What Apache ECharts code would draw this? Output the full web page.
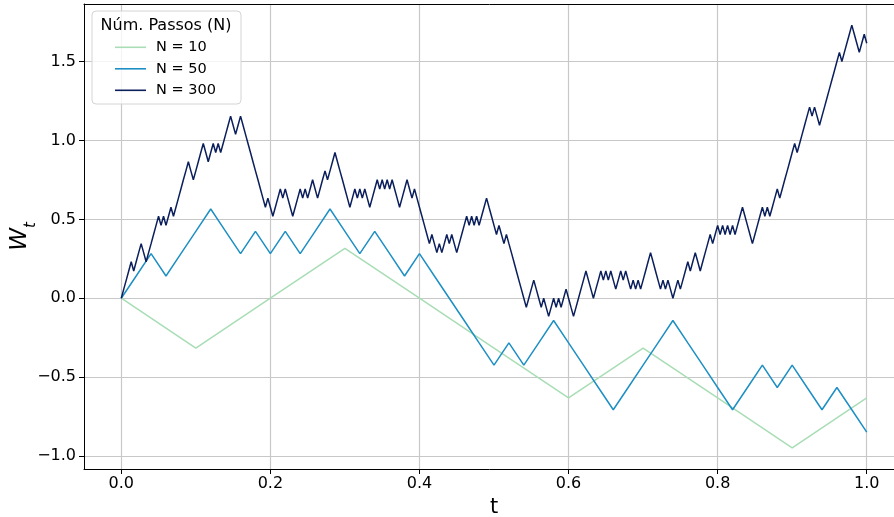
<!DOCTYPE html>
<html>
<head>
<meta charset="utf-8">
<script src="https://cdn.jsdelivr.net/npm/echarts@6/dist/echarts.min.js"></script>
<style>
  html, body { margin: 0; padding: 0; background: #ffffff; }
  #chart { width: 894px; height: 517px; }
</style>
</head>
<body>
<div id="chart"></div>
<script>
// Random walk W_t on [0, 1] with N steps of size sqrt(1/N)
const seriesNames = ['N = 10', 'N = 50', 'N = 300'];
const legendTitle = 'Núm. Passos (N)';

const walk10 = [0, -0.316, 0, 0.316, 0, -0.316, -0.632, -0.316, -0.632, -0.949, -0.632];

const walk50 = [
  0, 0.141, 0.283, 0.141, 0.283, 0.424, 0.566, 0.424, 0.283, 0.424,
  0.283, 0.424, 0.283, 0.424, 0.566, 0.424, 0.283, 0.424, 0.283, 0.141,
  0.283, 0.141, 0, -0.141, -0.283, -0.424, -0.283, -0.424, -0.283, -0.141,
  -0.283, -0.424, -0.566, -0.707, -0.566, -0.424, -0.283, -0.141, -0.283, -0.424,
  -0.566, -0.707, -0.566, -0.424, -0.566, -0.424, -0.566, -0.707, -0.566, -0.707,
  -0.849
];

const walk300 = [
  0, 0.058, 0.115, 0.173, 0.231, 0.173, 0.231, 0.289, 0.346, 0.289,
  0.231, 0.289, 0.346, 0.404, 0.462, 0.520, 0.462, 0.520, 0.462, 0.520,
  0.577, 0.520, 0.577, 0.635, 0.693, 0.751, 0.808, 0.866, 0.808, 0.751,
  0.808, 0.866, 0.924, 0.981, 0.924, 0.866, 0.924, 0.981, 0.924, 0.981,
  0.924, 0.981, 1.039, 1.097, 1.155, 1.097, 1.039, 1.097, 1.155, 1.097,
  1.039, 0.981, 0.924, 0.866, 0.808, 0.751, 0.693, 0.635, 0.577, 0.635,
  0.577, 0.520, 0.577, 0.635, 0.693, 0.635, 0.693, 0.635, 0.577, 0.520,
  0.577, 0.635, 0.693, 0.635, 0.693, 0.635, 0.693, 0.751, 0.693, 0.635,
  0.693, 0.751, 0.808, 0.751, 0.808, 0.866, 0.924, 0.866, 0.808, 0.751,
  0.693, 0.635, 0.577, 0.635, 0.693, 0.635, 0.693, 0.635, 0.693, 0.635,
  0.577, 0.635, 0.693, 0.751, 0.693, 0.751, 0.693, 0.751, 0.693, 0.751,
  0.693, 0.635, 0.577, 0.635, 0.693, 0.751, 0.693, 0.635, 0.693, 0.635,
  0.577, 0.520, 0.462, 0.404, 0.346, 0.404, 0.346, 0.289, 0.346, 0.289,
  0.346, 0.404, 0.346, 0.404, 0.346, 0.289, 0.346, 0.404, 0.462, 0.520,
  0.462, 0.520, 0.462, 0.520, 0.462, 0.520, 0.577, 0.635, 0.577, 0.520,
  0.462, 0.404, 0.462, 0.404, 0.346, 0.404, 0.346, 0.289, 0.231, 0.173,
  0.115, 0.058, 0, -0.058, 0, 0.058, 0.115, 0.058, 0, -0.058,
  0, -0.058, -0.115, -0.058, 0, -0.058, 0, -0.058, 0, 0.058,
  0, -0.058, -0.115, -0.058, 0, 0.058, 0.115, 0.173, 0.115, 0.058,
  0, 0.058, 0.115, 0.173, 0.115, 0.173, 0.115, 0.173, 0.115, 0.058,
  0.115, 0.173, 0.115, 0.173, 0.115, 0.058, 0.115, 0.058, 0.115, 0.058,
  0.115, 0.173, 0.231, 0.289, 0.231, 0.173, 0.115, 0.058, 0.115, 0.058,
  0.115, 0.058, 0, 0.058, 0.115, 0.058, 0.115, 0.173, 0.231, 0.173,
  0.231, 0.289, 0.231, 0.173, 0.231, 0.289, 0.346, 0.404, 0.346, 0.404,
  0.462, 0.404, 0.462, 0.404, 0.462, 0.404, 0.462, 0.404, 0.462, 0.520,
  0.577, 0.520, 0.462, 0.404, 0.346, 0.404, 0.462, 0.520, 0.577, 0.520,
  0.577, 0.520, 0.577, 0.635, 0.693, 0.635, 0.693, 0.751, 0.808, 0.866,
  0.924, 0.981, 0.924, 0.981, 1.039, 1.097, 1.155, 1.212, 1.155, 1.212,
  1.155, 1.097, 1.155, 1.212, 1.270, 1.328, 1.386, 1.443, 1.501, 1.559,
  1.501, 1.559, 1.617, 1.674, 1.732, 1.674, 1.617, 1.559, 1.617, 1.674,
  1.617
];

const xTicks = [0, 0.2, 0.4, 0.6, 0.8, 1.0];
const yTicks = [-1.0, -0.5, 0, 0.5, 1.0, 1.5];

const colors = ['#a8ddb5', '#1d8fc4', '#0b1f5c'];
const FONT = 'DejaVu Sans';

// pair each value with its time t = i / N
function toPoints(values) {
  const n = values.length - 1;
  return values.map((v, i) => [i / n, v]);
}

const fmt = v => v.toFixed(1).replace('-', '\u2212');

const chart = echarts.init(document.getElementById('chart'), null, { renderer: 'canvas' });

chart.setOption({
  animation: false,
  backgroundColor: '#ffffff',
  textStyle: { fontFamily: FONT },
  grid: { left: 84, top: 4, right: -10, bottom: 48, containLabel: false, outerBoundsMode: 'none' },
  xAxis: [{
    type: 'value',
    min: -0.05,
    max: 1.05,
    name: 't',
    nameLocation: 'middle',
    nameGap: 28,
    nameMoveOverlap: false,
    nameTextStyle: { fontSize: 21, color: '#000', fontFamily: FONT },
    axisLine: { show: true, onZero: false, lineStyle: { color: '#000', width: 1 } },
    axisTick: { show: true, length: 5, customValues: xTicks, lineStyle: { color: '#000', width: 1 } },
    axisLabel: { customValues: xTicks, formatter: fmt, fontSize: 16, color: '#000', margin: 7, fontFamily: FONT },
    splitLine: { show: true, lineStyle: { color: '#c8c8c8', width: 1.2 } }
  }, {
    type: 'value',
    position: 'top',
    min: -0.05,
    max: 1.05,
    axisLine: { show: true, onZero: false, lineStyle: { color: '#000', width: 1 } },
    axisTick: { show: false },
    axisLabel: { show: false },
    splitLine: { show: false }
  }],
  yAxis: [{
    type: 'value',
    min: -1.083,
    max: 1.866,
    name: '{w|W}{s|t}',
    nameLocation: 'middle',
    nameGap: 45,
    nameMoveOverlap: false,
    nameTextStyle: {
      color: '#000',
      rich: {
        w: { fontSize: 23, fontStyle: 'italic', fontFamily: FONT, color: '#000', lineHeight: 30, verticalAlign: 'top' },
        s: { fontSize: 15, fontStyle: 'italic', fontFamily: FONT, color: '#000', lineHeight: 15, verticalAlign: 'bottom' }
      }
    },
    axisLine: { show: true, onZero: false, lineStyle: { color: '#000', width: 1 } },
    axisTick: { show: true, length: 5, customValues: yTicks, lineStyle: { color: '#000', width: 1 } },
    axisLabel: { customValues: yTicks, formatter: fmt, fontSize: 16, color: '#000', margin: 8, fontFamily: FONT },
    splitLine: { show: true, lineStyle: { color: '#c8c8c8', width: 1.2 } }
  }],
  legend: {
    data: seriesNames,
    orient: 'vertical',
    left: 115,
    top: 39.3,
    padding: 0,
    icon: 'rect',
    itemWidth: 31,
    itemHeight: 1.6,
    itemGap: 5.5,
    z: 10,
    textStyle: { fontSize: 14.5, lineHeight: 16, color: '#000', fontFamily: FONT, padding: [0, 0, 0, 5] }
  },
  graphic: [{
    type: 'rect',
    z: 8,
    shape: { x: 92, y: 11, width: 149, height: 93, r: 4 },
    style: { fill: 'rgba(255,255,255,0.8)', stroke: '#d4d4d4', lineWidth: 1 }
  }, {
    type: 'text',
    z: 9,
    style: {
      text: legendTitle, x: 166, y: 25.5, align: 'center', verticalAlign: 'middle',
      fontSize: 16, fontFamily: FONT, fill: '#000'
    }
  }],
  series: [walk10, walk50, walk300].map((w, i) => ({
    name: seriesNames[i],
    type: 'line',
    data: toPoints(w),
    showSymbol: false,
    symbol: 'none',
    color: colors[i],
    lineStyle: { color: colors[i], width: 1.5 },
    z: 2 + i
  }))
});
</script>
</body>
</html>
